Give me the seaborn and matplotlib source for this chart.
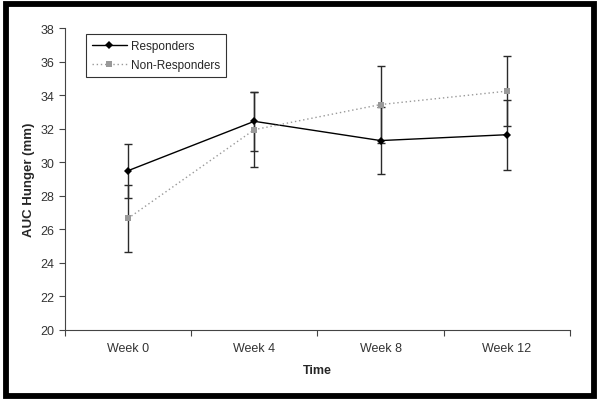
import matplotlib
matplotlib.use("Agg")
import matplotlib.pyplot as plt
import numpy as np
import pandas as pd
import seaborn as sns
from matplotlib.patches import Rectangle

weeks = ["Week 0", "Week 4", "Week 8", "Week 12"]
responders = [29.5, 32.45, 31.3, 31.65]
responders_err = [1.6, 1.75, 2.0, 2.1]
non_responders = [26.65, 31.95, 33.45, 34.25]
non_responders_err = [2.0, 2.25, 2.3, 2.1]

sns.set_theme(style="white")
plt.rcParams['font.family'] = ['Liberation Sans', 'DejaVu Sans']

df = pd.DataFrame({
    "x": list(range(len(weeks))) * 2,
    "AUC": responders + non_responders,
    "group": ["Responders"] * 4 + ["Non-Responders"] * 4,
})

fig = plt.figure(figsize=(6, 4.02), dpi=100)
ax = fig.add_axes([0.108, 0.177, 0.842, 0.75])

# error bars first so the lines sit on top
xs = np.arange(len(weeks))
ax.errorbar(xs, responders, yerr=responders_err, fmt="none", ecolor="#2a2a2a",
            elinewidth=1.0, capsize=3, capthick=1.0, zorder=2)
ax.errorbar(xs, non_responders, yerr=non_responders_err, fmt="none", ecolor="#2a2a2a",
            elinewidth=1.0, capsize=3, capthick=1.0, zorder=2)

sns.lineplot(data=df, x="x", y="AUC", hue="group", style="group",
             palette={"Responders": "black", "Non-Responders": "#999999"},
             dashes={"Responders": "", "Non-Responders": (1, 2)},
             markers={"Responders": "D", "Non-Responders": "s"},
             markersize=4.5, markeredgewidth=0, linewidth=1.0, ax=ax, zorder=3)

ax.set_xlim(-0.5, 3.5)
ax.set_ylim(20, 38)
ax.set_yticks(np.arange(20, 39, 2))
ax.set_xticks(xs)
ax.set_xticklabels(weeks)
ax.set_xticks(np.arange(-0.5, 3.6, 1), minor=True)
ax.tick_params(axis="x", which="major", length=0, pad=9, labelsize=9, colors="#333333")
ax.tick_params(axis="x", which="minor", length=4, width=0.8, color="#444444", bottom=True)
ax.tick_params(axis="y", length=4, width=0.8, left=True, labelsize=9, colors="#333333", color="#444444")

ax.set_xlabel("Time", fontsize=9, fontweight="bold", labelpad=7)
ax.set_ylabel("AUC Hunger (mm)", fontsize=9.5, fontweight="bold", labelpad=4)

for side in ["top", "right"]:
    ax.spines[side].set_visible(False)
for side in ["left", "bottom"]:
    ax.spines[side].set_color("#444444")
    ax.spines[side].set_linewidth(0.8)

leg = ax.legend(loc="upper left", bbox_to_anchor=(0.03, 1.0), fontsize=8.5,
                frameon=True, fancybox=False, handlelength=3.0, borderpad=0.5,
                labelspacing=0.6, handletextpad=0.3)
leg.get_frame().set_edgecolor("black")
leg.get_frame().set_linewidth(0.8)
leg.set_title(None)

# thick frame around the whole picture
fig.patches.append(Rectangle((0.0095, 0.0125), 0.981, 0.975, transform=fig.transFigure,
                             fill=False, edgecolor="black", linewidth=4.2))

fig.savefig("out.png", dpi=100)
